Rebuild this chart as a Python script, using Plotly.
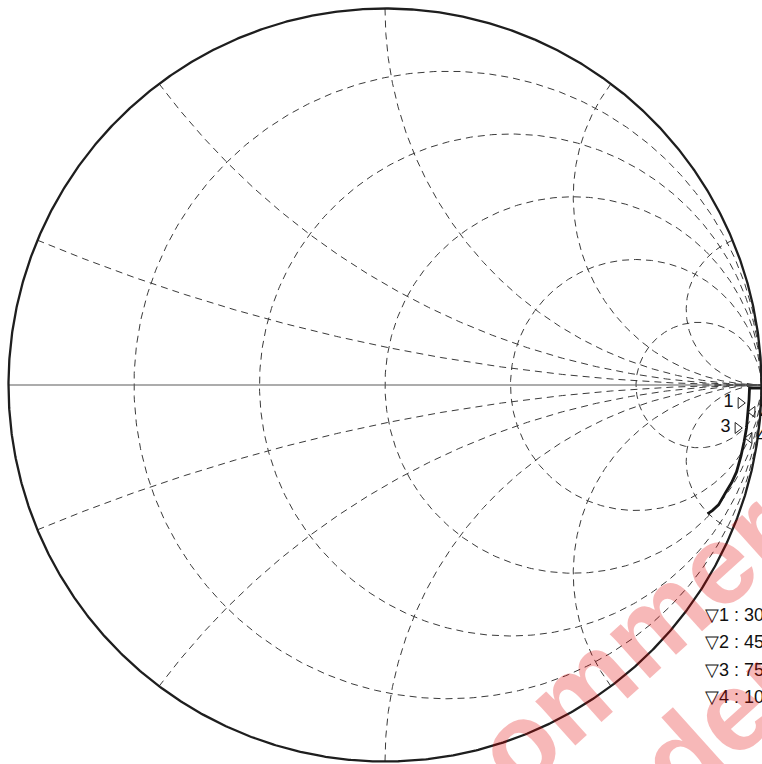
import numpy as np
import plotly.graph_objects as go

# ---------------- data ----------------
# Smith chart grid values (normalized resistance / reactance)
r_values = [0.2, 0.5, 1, 2, 5]
x_values = [0.2, 0.5, 1, 2, 5]

# measured reflection coefficient trace (real / imaginary part of Gamma)
curve_re = [1.0000, 0.9682, 0.9668, 0.9642, 0.9602, 0.9536, 0.9456, 0.9337,
            0.9204, 0.9072, 0.8859, 0.8700, 0.8568]
curve_im = [-0.0080, -0.0080, -0.0398, -0.0716, -0.1141, -0.1512, -0.1883,
            -0.2308, -0.2599, -0.2812, -0.3183, -0.3329, -0.3422]

# data markers
marker_labels = ["1", "2", "3", "4"]
marker_re = [0.9443, 0.9761, 0.9363, 0.9682]
marker_im = [-0.0477, -0.0716, -0.1141, -0.1406]
marker_freqs = ["300 MHz", "450 MHz", "750 MHz", "1000 MHz"]

# watermark text
watermark_lines = ["commercial", "Student"]

# ---------------- figure ----------------
W, H = 762, 764
CX, CY, R = 385.0, 385.0, 376.5  # pixel centre / radius of unit circle

x_range = [-CX / R, (W - CX) / R]
y_range = [-(H - CY) / R, CY / R]

GRID = dict(color="#3a3a3a", width=1, dash="7px,5px")
FONT = "Liberation Sans, Arial, Helvetica, sans-serif"

fig = go.Figure()

# resistance circles
for r in r_values:
    t = np.linspace(0, 2 * np.pi, 600)
    c, rad = r / (1 + r), 1 / (1 + r)
    fig.add_trace(go.Scatter(x=c + rad * np.cos(t), y=rad * np.sin(t), mode="lines",
                             line=GRID, hoverinfo="skip", showlegend=False))

# reactance arcs (inside unit circle only)
for xv in x_values:
    for sgn in (1, -1):
        b = 1 / xv
        gi = ((xv**2 - 1) / (xv**2 + 1), 2 * xv / (xv**2 + 1))
        phi_end = np.arctan2(gi[1] - b, gi[0] - 1)
        if phi_end < np.pi / 2:
            phi_end += 2 * np.pi
        phi = np.linspace(phi_end, 1.5 * np.pi, 400)
        gx = 1 + b * np.cos(phi)
        gy = b + b * np.sin(phi)
        fig.add_trace(go.Scatter(x=gx, y=sgn * gy, mode="lines", line=GRID,
                                 hoverinfo="skip", showlegend=False))

# real axis
fig.add_trace(go.Scatter(x=[-1, 1], y=[0, 0], mode="lines",
                         line=dict(color="#5a5a5a", width=1.2),
                         hoverinfo="skip", showlegend=False))

# outer circle
t = np.linspace(0, 2 * np.pi, 1200)
fig.add_trace(go.Scatter(x=np.cos(t), y=np.sin(t), mode="lines",
                         line=dict(color="#1e1e1e", width=2.3),
                         hoverinfo="skip", showlegend=False))

# data curve
fig.add_trace(go.Scatter(x=curve_re, y=curve_im, mode="lines",
                         line=dict(color="#161616", width=2.8),
                         hoverinfo="skip", showlegend=False))

# markers
for i, lab in enumerate(marker_labels):
    left = (i % 2 == 0)
    fig.add_trace(go.Scatter(
        x=[marker_re[i]], y=[marker_im[i]], mode="markers+text",
        marker=dict(symbol="triangle-right-open" if left else "triangle-left-open",
                    size=9.5, color="#222", line=dict(width=1, color="#222")),
        text=[lab], textposition="middle left" if left else "middle right",
        textfont=dict(family=FONT, size=18, color="#111"),
        cliponaxis=False, hoverinfo="skip", showlegend=False))

annotations = []
# marker legend
for i, (lab, fr) in enumerate(zip(marker_labels, marker_freqs)):
    py = 615 + i * 27.3
    annotations.append(dict(
        x=703 / W, y=1 - py / H, xref="paper", yref="paper",
        xanchor="left", yanchor="middle", showarrow=False,
        text=f"\u25BD{lab} : {fr}",
        font=dict(family=FONT, size=18, color="#111")))

# watermark
wm_centres = [(678.6, 600.3), (677.4, 761.2)]
for txt, (px, py) in zip(watermark_lines, wm_centres):
    annotations.append(dict(
        x=px / W, y=1 - py / H, xref="paper", yref="paper",
        xanchor="center", yanchor="middle", showarrow=False,
        text=txt, textangle=-42,
        font=dict(family=FONT, size=113, color="rgba(228,0,0,0.28)", weight="bold")))

fig.update_layout(
    width=W, height=H,
    margin=dict(l=0, r=0, t=0, b=0),
    paper_bgcolor="white", plot_bgcolor="white",
    xaxis=dict(range=x_range, visible=False, fixedrange=True),
    yaxis=dict(range=y_range, visible=False, fixedrange=True),
    annotations=annotations,
    showlegend=False,
)

fig.write_html("out.html", config={"displayModeBar": False},
               post_script="document.body.style.margin='0';document.body.style.overflow='hidden';")
